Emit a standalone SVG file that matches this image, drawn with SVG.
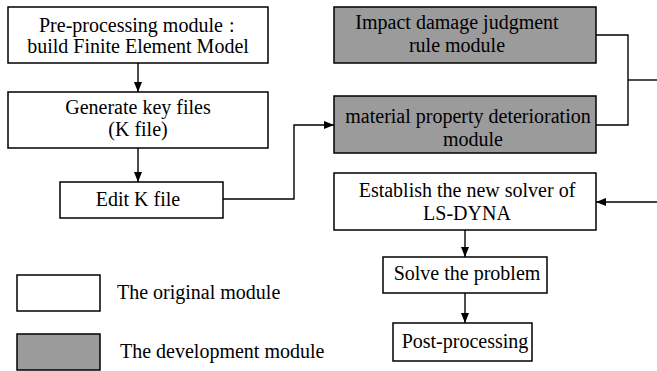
<svg xmlns="http://www.w3.org/2000/svg" width="657" height="371" viewBox="0 0 657 371">
  <defs>
    <marker id="arrow" viewBox="0 0 10 10" refX="10" refY="5" markerWidth="10" markerHeight="10" markerUnits="userSpaceOnUse" orient="auto">
      <path d="M0,1 L10,5 L0,9 Z" fill="#000000"/>
    </marker>
  </defs>

  <rect width="657" height="371" fill="#ffffff"/>

  <!-- module boxes: white = original, grey = development -->
  <g stroke="#000000" stroke-width="1.5">
    <g id="preprocessing"><rect x="8" y="7" width="260" height="56" fill="#ffffff"/></g>
    <g id="generate-k"><rect x="8" y="92" width="260" height="56" fill="#ffffff"/></g>
    <g id="edit-k"><rect x="60" y="182" width="163" height="36" fill="#ffffff"/></g>
    <g id="impact-rule"><rect x="334" y="7" width="262" height="56" fill="#9b9b9b"/></g>
    <g id="material-deterioration"><rect x="334" y="96" width="262" height="57" fill="#9b9b9b"/></g>
    <g id="new-solver"><rect x="334" y="173" width="262" height="57" fill="#ffffff"/></g>
    <g id="solve"><rect x="383" y="257" width="164" height="36" fill="#ffffff"/></g>
    <g id="post-processing"><rect x="393" y="323" width="139" height="38" fill="#ffffff"/></g>
    <g id="legend-swatches">
      <rect x="17" y="275" width="83" height="36" fill="#ffffff"/>
      <rect x="17" y="334" width="83" height="36" fill="#9b9b9b"/>
    </g>
  </g>

  <!-- labels -->
  <g font-family="Liberation Serif" font-size="20" fill="#000000">
    <g text-anchor="middle">
      <text x="138" y="53">build Finite Element Model</text>
      <text x="138" y="114">Generate key files</text>
      <text x="138" y="136">(K file)</text>
      <text x="138" y="206">Edit K file</text>
      <text x="457" y="29">Impact damage judgment</text>
      <text x="457" y="52">rule module</text>
      <text x="468" y="123">material property deterioration</text>
      <text x="473" y="146">module</text>
      <text x="467" y="197">Establish the new solver of</text>
      <text x="467" y="220">LS-DYNA</text>
      <text x="467" y="280">Solve the problem</text>
      <text x="465" y="348">Post-processing</text>
    </g>
    <text x="39" y="32">Pre-processing module<tspan x="229">:</tspan></text>
    <text x="117" y="299">The original module</text>
    <text x="120" y="358">The development module</text>
  </g>

  <g id="connectors" fill="none" stroke="#000000" stroke-width="1.4">
    <line x1="138" y1="63" x2="138" y2="92" marker-end="url(#arrow)"/>
    <line x1="138" y1="148" x2="138" y2="182" marker-end="url(#arrow)"/>
    <polyline points="223,199 294,199 294,125 334,125" marker-end="url(#arrow)"/>
    <polyline points="596,35 628,35 628,125 596,125"/>
    <line x1="628" y1="80" x2="657" y2="80"/>
    <line x1="657" y1="202" x2="596" y2="202" marker-end="url(#arrow)"/>
    <line x1="465" y1="230" x2="465" y2="257" marker-end="url(#arrow)"/>
    <line x1="465" y1="293" x2="465" y2="323" marker-end="url(#arrow)"/>
  </g>
</svg>
